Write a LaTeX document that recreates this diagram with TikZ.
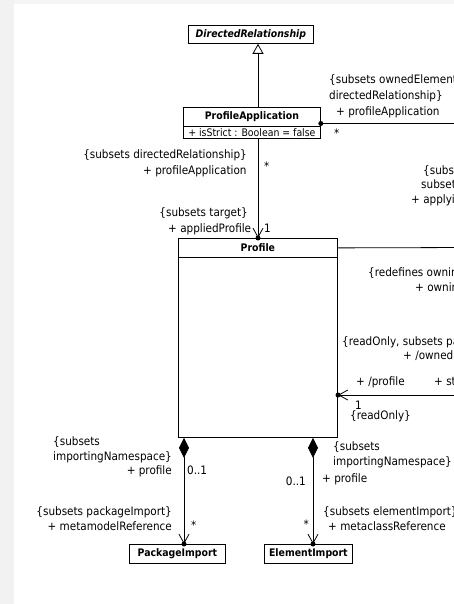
\documentclass[tikz,border=0pt]{standalone}
\usepackage{fontspec}
\setmainfont{DejaVu Sans Condensed}
\usetikzlibrary{arrows.meta}
\tikzset{
  cls/.style={draw, line width=0.8pt, inner sep=0pt, anchor=north west,
    font=\fontsize{10.4}{12}\selectfont\bfseries},
  attr/.style={draw, line width=0.8pt, inner sep=0pt, anchor=north west,
    font=\fontsize{10.4}{12}\selectfont},
  lbl/.style={inner sep=0pt, font=\fontsize{11.6}{13}\selectfont},
  assoc/.style={line width=0.8pt},
  nav/.style={assoc, -{Straight Barb[length=9pt,width=10pt,line width=0.8pt]}},
  comp/.style={assoc, {Diamond[length=20pt,width=10pt]}-{Straight Barb[length=9pt,width=10pt,line width=0.8pt]}},
  enddot/.style={fill, circle, inner sep=0pt, minimum size=5pt}
}
\begin{document}
\begin{tikzpicture}[x=1pt,y=-1pt]
\useasboundingbox (0,0) rectangle (454,604);
\fill[white] (0,0) rectangle (454,604);
% faint page margin
\fill[black!5] (0,0) rectangle (14,604);
\fill[black!4] (14,0) rectangle (454,4);

% classes
\node[cls, font=\fontsize{10.4}{12}\selectfont\bfseries\itshape, minimum width=125pt, minimum height=18pt] (dr) at (188,25) {DirectedRelationship};
\node[cls, minimum width=137pt, minimum height=19pt] (pa) at (183,107) {ProfileApplication};
\node[attr, minimum width=137pt, minimum height=12pt] (paattr) at (183,126) {+ isStrict : Boolean = false};
\node[cls, minimum width=159pt, minimum height=19pt] (pr) at (178,238) {Profile};
\node[attr, minimum width=159pt, minimum height=180pt] (prb) at (178,257) {};
\node[cls, minimum width=96pt, minimum height=19pt] (pi) at (129,544) {PackageImport};
\node[cls, minimum width=88pt, minimum height=19pt] (ei) at (264,544) {ElementImport};

% helper coordinates
\coordinate (gx) at (258,0);
\coordinate (rpa) at (470,123.5);
\coordinate (rpr) at (470,247.5);
\coordinate (rst) at (470,395);
\coordinate (lst) at (338,395);
\coordinate (dl) at (184,0);
\coordinate (dr2) at (313,0);

% generalization
\draw[assoc, -{Triangle[open,length=10pt,width=11pt,line width=0.8pt]}] (pa.north -| gx) -- (dr.south -| gx);

% ProfileApplication -- Profile
\draw[nav] (paattr.south -| gx) -- (pr.north -| gx);
\node[enddot] (d1) at (pr.north -| gx) {};

% ProfileApplication owner end
\node[enddot] (d2) at (pa.east |- rpa) {};
\draw[assoc] (d2.center) -- (rpa);

% Profile header association
\draw[assoc] (pr.east) -- (rpr);

% Profile -- stereotype association
\draw[nav] (rst) -- (lst);
\node[enddot] (d3) at (lst) {};

% imports
\draw[comp] (prb.south -| dl) -- (pi.north -| dl);
\node[enddot] (d4) at (pi.north -| dl) {};
\draw[comp] (prb.south -| dr2) -- (ei.north -| dr2);
\node[enddot] (d5) at (ei.north -| dr2) {};

% labels near ProfileApplication
\node[lbl, anchor=base west] (l1) at (329,84) {\{subsets ownedElement,};
\node[lbl, anchor=base west] (l2) at (329,100) {directedRelationship\}};
\begin{scope}
\clip (330,100) rectangle (441,125);
\node[lbl, anchor=base west] (l3) at (336,116) {+ profileApplication};
\end{scope}
\node[lbl, anchor=base west] (l4) at (334,138) {*};

\node[lbl, anchor=base east] (l5) at (247,159) {\{subsets directedRelationship\}};
\begin{scope}
\clip (130,160) rectangle (247,180);
\node[lbl, anchor=base west] (l6) at (143,174) {+ profileApplication};
\end{scope}
\node[lbl, anchor=base west] (l7) at (264,170) {*};
\node[lbl, anchor=base east] (l8) at (248,216) {\{subsets target\}};
\begin{scope}
\clip (150,218) rectangle (254,238);
\node[lbl, anchor=base west] (l9) at (168,232) {+ appliedProfile};
\end{scope}
\node[lbl, anchor=base west] (l10) at (264,232) {1};

\node[lbl, anchor=base west] (l11) at (423,174) {\{subsets source,};
\node[lbl, anchor=base west] (l12) at (421,188) {subsets owner\}};
\node[lbl, anchor=base west] (l13) at (411,203) {+ applyingPackage};

% labels near Profile
\node[lbl, anchor=base west] (l14) at (368,276) {\{redefines owningPackage\}};
\node[lbl, anchor=base west] (l15) at (415,291) {+ owningPackage};
\node[lbl, anchor=base west] (l16) at (342,345) {\{readOnly, subsets packagedElement\}};
\node[lbl, anchor=base west] (l17) at (403,359) {+ /ownedStereotype};
\node[lbl, anchor=base west] (l18) at (356,385) {+ /profile};
\node[lbl, anchor=base west] (l19) at (434,385) {+ stereotype};
\node[lbl, anchor=base west] (l20) at (355,409) {1};
\node[lbl, anchor=base west] (l21) at (350,419) {\{readOnly\}};

% labels near the imports
\node[lbl, anchor=base west] (l22) at (53,445) {\{subsets};
\node[lbl, anchor=base west] (l23) at (53,460) {importingNamespace\}};
\node[lbl, anchor=base east] (l24) at (172,474) {+ profile};
\node[lbl, anchor=base west] (l25) at (187,474) {0..1};
\node[lbl, anchor=base east] (l26) at (172,515) {\{subsets packageImport\}};
\node[lbl, anchor=base east] (l27) at (172,530) {+ metamodelReference};
\node[lbl, anchor=base west] (l28) at (191,529) {*};

\node[lbl, anchor=base west] (l29) at (333,450) {\{subsets};
\node[lbl, anchor=base west] (l30) at (333,465) {importingNamespace\}};
\node[lbl, anchor=base west] (l31) at (322,482) {+ profile};
\node[lbl, anchor=base east] (l32) at (306,485) {0..1};
\node[lbl, anchor=base west] (l33) at (323,515) {\{subsets elementImport\}};
\node[lbl, anchor=base west] (l34) at (328,530) {+ metaclassReference};
\node[lbl, anchor=base east] (l35) at (309,528) {*};
\end{tikzpicture}
\end{document}
